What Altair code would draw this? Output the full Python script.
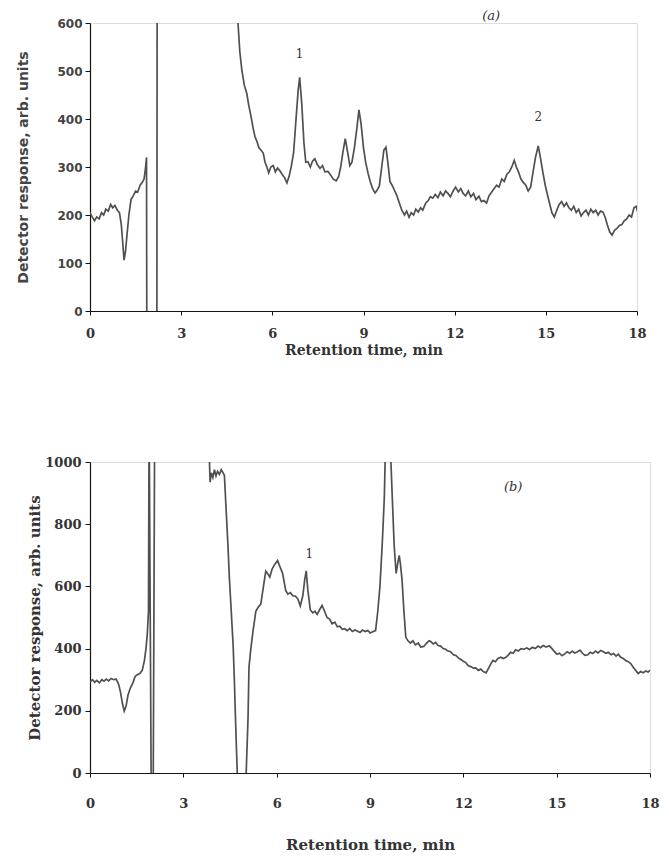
import altair as alt
import pandas as pd

# ---------------- Panel (a) ----------------
a_time = [0.00, 0.08, 0.15, 0.22, 0.30, 0.38, 0.45, 0.52, 0.60, 0.68, 0.75, 0.82, 0.90, 0.97,
          1.03, 1.08, 1.12, 1.17, 1.22, 1.28, 1.35, 1.42, 1.50, 1.57, 1.65, 1.72, 1.78, 1.83, 1.86,
          1.87, 2.20, 2.21, 4.80,
          4.87, 4.93, 5.00, 5.08, 5.16, 5.22, 5.30, 5.37, 5.43, 5.50, 5.56, 5.63, 5.70, 5.76, 5.82,
          5.88, 5.95, 6.03, 6.10, 6.17, 6.25, 6.32, 6.40, 6.48, 6.55, 6.62, 6.70, 6.78, 6.85, 6.90,
          6.97, 7.04, 7.10, 7.17, 7.25, 7.32, 7.40, 7.48, 7.57, 7.65, 7.73, 7.83, 7.92, 8.00, 8.10,
          8.18, 8.25, 8.32, 8.40, 8.48, 8.55, 8.62, 8.70, 8.78, 8.85, 8.92, 9.00, 9.07, 9.15, 9.22,
          9.30, 9.38, 9.45, 9.52, 9.60, 9.67, 9.74, 9.80, 9.87, 9.95, 10.03, 10.10, 10.18, 10.26,
          10.35, 10.42, 10.50, 10.57, 10.65, 10.72, 10.80, 10.88, 10.95, 11.05, 11.13, 11.20, 11.28,
          11.36, 11.45, 11.53, 11.62, 11.70, 11.78, 11.86, 11.95, 12.03, 12.12, 12.20, 12.28, 12.36,
          12.45, 12.53, 12.62, 12.70, 12.80, 12.88, 12.96, 13.05, 13.13, 13.22, 13.30, 13.38, 13.46,
          13.55, 13.63, 13.72, 13.80, 13.88, 13.96, 14.03, 14.10, 14.18, 14.26, 14.34, 14.42, 14.50,
          14.58, 14.66, 14.75, 14.82, 14.90, 14.98, 15.05, 15.12, 15.20, 15.28, 15.36, 15.44, 15.52,
          15.60, 15.68, 15.76, 15.84, 15.92, 16.00, 16.08, 16.16, 16.24, 16.32, 16.40, 16.48, 16.56,
          16.64, 16.72, 16.80, 16.88, 16.95, 17.02, 17.10, 17.18, 17.26, 17.34, 17.42, 17.50, 17.58,
          17.66, 17.74, 17.82, 17.90, 17.97, 18.03]
a_resp = [205, 195, 188, 196, 192, 205, 200, 212, 208, 222, 215, 220, 210, 205,
          180, 140, 106, 125, 160, 200, 232, 240, 250, 248, 262, 268, 275, 300, 320,
          -60, -60, 700, 700,
          600, 540, 500, 470, 453, 430, 405, 380, 363, 352, 340, 335, 329, 310, 300,
          288, 300, 303, 290, 298, 292, 285, 278, 267, 280, 300, 330, 400, 460, 487,
          430, 350, 310, 311, 300, 312, 317, 305, 297, 303, 290, 291, 283, 275, 271,
          280, 300, 330, 359, 330, 303, 310, 340, 380, 419, 390, 340, 310, 287, 270,
          255, 246, 252, 260, 300, 335, 341, 310, 270, 261, 250, 240, 225, 210,
          200, 208, 195, 205, 200, 212, 206, 215, 210, 225, 230, 238, 235,
          243, 236, 248, 240, 250, 245, 238, 250, 258, 248, 255, 245, 240,
          250, 238, 245, 232, 239, 228, 230, 225, 240, 248, 255, 262, 258,
          275, 270, 285, 290, 300, 314, 300, 290, 275, 268, 262, 250, 258,
          290, 320, 344, 320, 290, 262, 243, 225, 205, 196, 210, 222, 228,
          218, 225, 215, 210, 218, 205, 212, 198, 205, 210, 200, 212, 205,
          210, 200, 208, 206, 196, 180, 165, 158, 168, 172, 178, 180, 188,
          192, 200, 196, 215, 218, 205]

a_tag_t = [13.2]
a_tag_v = [614]
a_tag_txt = ["(a)"]
a_peak_t = [6.9, 14.75]
a_peak_v = [535, 405]
a_peak_txt = ["1", "2"]

# ---------------- Panel (b) ----------------
b_time = [0.00, 0.08, 0.15, 0.22, 0.30, 0.38, 0.45, 0.52, 0.60, 0.68, 0.76, 0.84, 0.92, 0.98,
          1.04, 1.10, 1.16, 1.22, 1.30, 1.38, 1.45, 1.52, 1.60, 1.68, 1.75, 1.80, 1.84, 1.88,
          1.90, 1.97, 2.03, 2.08, 3.82,
          3.84, 3.86, 3.90, 3.95, 4.00, 4.05, 4.10, 4.16, 4.22, 4.28, 4.32, 4.38, 4.43, 4.48,
          4.54, 4.60, 4.64, 4.67, 4.70, 4.73, 4.75, 5.00,
          5.02, 5.08, 5.11, 5.17, 5.24, 5.33, 5.42, 5.49, 5.56, 5.65, 5.72, 5.78, 5.85, 5.93,
          6.03, 6.10, 6.19, 6.29, 6.36, 6.44, 6.52, 6.60, 6.68, 6.76, 6.84, 6.90, 6.95, 7.00,
          7.08, 7.16, 7.23, 7.30, 7.38, 7.46, 7.54, 7.62, 7.70, 7.78, 7.87, 7.95, 8.03, 8.11,
          8.19, 8.27, 8.35, 8.43, 8.52, 8.60, 8.68, 8.76, 8.85, 8.93, 9.01, 9.10, 9.18, 9.25,
          9.32, 9.40, 9.46, 9.52, 9.62, 9.68, 9.73, 9.78, 9.84, 9.90, 9.94, 9.98, 10.03, 10.09,
          10.15, 10.22, 10.30, 10.38, 10.46, 10.55, 10.63, 10.73, 10.82, 10.90, 10.95, 11.03,
          11.11, 11.19, 11.27, 11.35, 11.43, 11.51, 11.59, 11.68, 11.76, 11.84, 11.92, 12.00,
          12.08, 12.16, 12.24, 12.32, 12.40, 12.48, 12.56, 12.64, 12.73, 12.80, 12.88, 12.95,
          13.03, 13.11, 13.20, 13.28, 13.37, 13.45, 13.52, 13.60, 13.68, 13.77, 13.85, 13.95,
          14.04, 14.13, 14.22, 14.31, 14.40, 14.48, 14.57, 14.66, 14.76, 14.85, 14.93, 15.01,
          15.09, 15.17, 15.26, 15.34, 15.42, 15.50, 15.58, 15.66, 15.75, 15.83, 15.91, 16.00,
          16.08, 16.16, 16.25, 16.33, 16.42, 16.50, 16.58, 16.66, 16.75, 16.83, 16.91, 16.98,
          17.06, 17.14, 17.22, 17.30, 17.38, 17.46, 17.54, 17.62, 17.70, 17.78, 17.86, 17.94,
          18.02]
b_resp = [293, 300, 292, 298, 290, 300, 295, 302, 296, 304, 300, 302, 285, 260,
          225, 199, 215, 250, 274, 290, 310, 316, 320, 330, 362, 400, 445, 520,
          1150, -100, -100, 1150, 1150,
          1000, 935, 965, 950, 975, 955, 970, 960, 975, 965, 957, 838, 740, 627,
          520, 412, 300, 196, 100, 13, -100, -100,
          0, 178, 340, 400, 456, 520, 535, 543, 590, 649, 640, 630, 655, 670,
          683, 665, 642, 587, 575, 580, 570, 569, 560, 537, 570, 620, 650, 590,
          525, 515, 520, 510, 525, 539, 520, 500, 495, 480, 485, 470, 472, 462,
          464, 458, 465, 455, 460, 456, 452, 460, 455, 458, 450, 455, 458, 520,
          600, 750, 885, 1150, 1150, 980, 850, 726, 642, 680, 700, 670, 621, 520,
          437, 425, 418, 425, 412, 418, 405, 407, 418, 425, 423, 415,
          420, 410, 408, 400, 398, 392, 390, 380, 378, 370, 365, 359,
          355, 345, 342, 337, 338, 330, 334, 326, 322, 335, 350, 362,
          358, 368, 372, 368, 372, 380, 388, 385, 396, 392, 400, 398,
          402, 397, 404, 400, 408, 403, 410, 405, 409, 400, 390, 382,
          385, 377, 383, 390, 385, 392, 386, 389, 395, 385, 378, 380,
          388, 384, 392, 386, 394, 390, 385, 388, 380, 384, 376, 382,
          372, 368, 362, 358, 352, 340, 330, 320, 326, 322, 328, 325,
          331]

b_tag_t = [13.6]
b_tag_v = [920]
b_tag_txt = ["(b)"]
b_peak_t = [7.05]
b_peak_v = [705]
b_peak_txt = ["1"]

x_ticks = [0, 3, 6, 9, 12, 15, 18]
a_y_ticks = [0, 100, 200, 300, 400, 500, 600]
b_y_ticks = [0, 200, 400, 600, 800, 1000]

LINE = "#505050"
TXT = "#333333"
AX = "#151515"


def build(times, resp, tag_t, tag_v, tag_txt, pk_t, pk_v, pk_txt, ymax,
          width, height, xaxis, yaxis):
    df = pd.DataFrame({"t": times, "v": resp})
    xs = alt.Scale(domain=[0, 18], nice=False)
    ys = alt.Scale(domain=[0, ymax], nice=False)
    line = alt.Chart(df).mark_line(clip=True, color=LINE, strokeWidth=1.7).encode(
        x=alt.X("t:Q", scale=xs, axis=xaxis),
        y=alt.Y("v:Q", scale=ys, axis=yaxis),
        order="t:Q",
    )
    tag = alt.Chart(pd.DataFrame({"t": tag_t, "v": tag_v, "s": tag_txt})).mark_text(
        font="DejaVu Serif", fontStyle="italic", fontSize=13, color=TXT
    ).encode(x=alt.X("t:Q", scale=xs), y=alt.Y("v:Q", scale=ys), text="s:N")
    pk = alt.Chart(pd.DataFrame({"t": pk_t, "v": pk_v, "s": pk_txt})).mark_text(
        font="DejaVu Serif", fontSize=12, color=TXT
    ).encode(x=alt.X("t:Q", scale=xs), y=alt.Y("v:Q", scale=ys), text="s:N")
    return alt.layer(line, tag, pk).properties(width=width, height=height)


common_x = dict(values=x_ticks, title="Retention time, min", grid=False, format="d",
                labelFont="DejaVu Serif", labelFontWeight="bold", labelColor=TXT,
                titleFont="DejaVu Serif", titleFontWeight="bold", titleColor=TXT,
                domainColor=AX, tickColor=AX, domainWidth=1.2, tickWidth=1,
                tickSize=4, labelFlush=False)

a_x = alt.Axis(labelFontSize=13, titleFontSize=14, labelPadding=12, titlePadding=3, **common_x)
b_x = alt.Axis(labelFontSize=13, titleFontSize=15, labelPadding=20, titlePadding=27, **common_x)

a_y = alt.Axis(values=a_y_ticks, title="Detector response, arb. units", grid=False, format="d",
               labelFont="DejaVu Sans", labelFontWeight="bold", labelFontSize=12, labelColor="#444",
               titleFont="DejaVu Sans", titleFontWeight="bold", titleFontSize=14, titleColor="#444",
               domainColor=AX, tickColor=AX, domainWidth=1.2, tickSize=5, labelPadding=3,
               titlePadding=26, labelFlush=False)
b_y = alt.Axis(values=b_y_ticks, title="Detector response, arb. units", grid=False, format="d",
               labelFont="DejaVu Serif", labelFontWeight="bold", labelFontSize=13, labelColor=TXT,
               titleFont="DejaVu Serif", titleFontWeight="bold", titleFontSize=15, titleColor=TXT,
               domainColor=AX, tickColor=AX, domainWidth=1.2, tickSize=5, labelPadding=4,
               titlePadding=2, labelFlush=False)

panel_a = build(a_time, a_resp, a_tag_t, a_tag_v, a_tag_txt, a_peak_t, a_peak_v, a_peak_txt,
                600, 547, 288, a_x, a_y)
panel_b = build(b_time, b_resp, b_tag_t, b_tag_v, b_tag_txt, b_peak_t, b_peak_v, b_peak_txt,
                1000, 560, 311, b_x, b_y)

chart = alt.vconcat(panel_a, panel_b, spacing=151, bounds="flush").properties(
    padding={"left": 8, "top": 1, "right": 0, "bottom": 0}
).configure_view(stroke=None).configure(background="white")

chart.save("out.html", embed_options={"renderer": "svg", "actions": False})
